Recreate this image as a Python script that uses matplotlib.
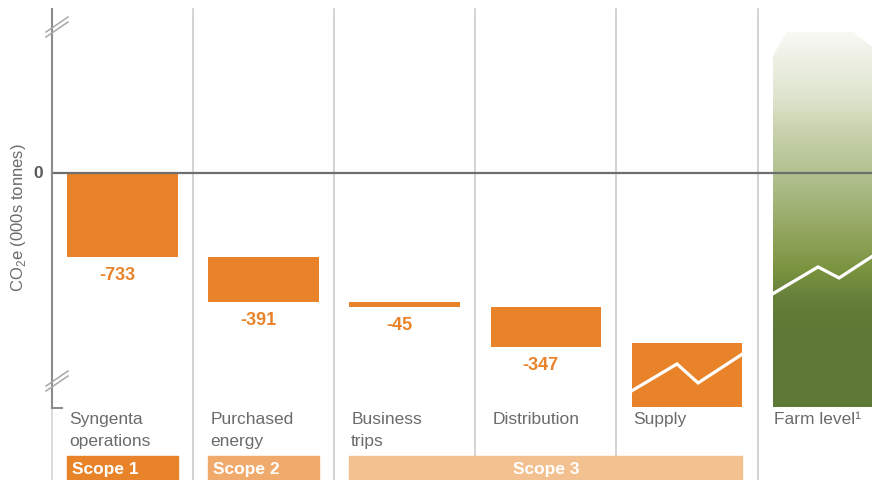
import numpy as np
import matplotlib
matplotlib.use("Agg")
import matplotlib.pyplot as plt
import matplotlib.transforms as mtransforms
from matplotlib.colors import LinearSegmentedColormap
from matplotlib.patches import Polygon, Rectangle

plt.rcParams['font.family'] = ['Liberation Sans', 'DejaVu Sans']
plt.rcParams['mathtext.fontset'] = 'custom'
plt.rcParams['mathtext.rm'] = 'Liberation Sans'

# CO2e emissions, 000s tonnes
categories = ["Syngenta\noperations", "Purchased\nenergy", "Business\ntrips",
              "Distribution", "Supply", "Farm level\u00b9"]
values = [-733, -391, -45, -347]
supply_top = -1480        # supply bar runs off the broken axis
farm_top = 1226           # farm level bar runs off the top break
axis_floor = -2035
# white trend squiggles inside supply / farm bars
trend_x = [0.0, 0.41, 0.60, 1.0]
supply_trend = [-1896, -1661, -1826, -1574]
farm_trend = [-1052, -817, -913, -661]
scopes = ["Scope 1", "Scope 2", "Scope 3"]
scope_span = [(0, 0), (1, 1), (2, 4)]

W, H = 872, 481
orange = '#e8832a'
scope_cols = ['#e8832a', '#f0aa6c', '#f3c190']
grey_txt = '#6b6b6b'
width = 0.787

fig = plt.figure(figsize=(W / 100, H / 100), dpi=100)
ax = fig.add_axes([0, 0, 1, 1])
ax.axis('off')
trans = ax.get_xaxis_transform()
pix = mtransforms.Affine2D().scale(1 / W, -1 / H).translate(0, 1) + fig.transFigure


def fy(p):
    return 1 - p / H


# waterfall bars
bottoms = np.cumsum(values)
tops = bottoms - np.array(values)
ax.bar(range(len(values)), values, bottom=tops, width=width, color=orange, zorder=3)
for i, (b, v) in enumerate(zip(bottoms, values)):
    ax.annotate(f"{v}", (i, b), xytext=(-4, -12.5), textcoords='offset points',
                ha='center', va='center', color=orange, fontweight='bold', fontsize=13)

# supply
ax.bar(4, axis_floor - supply_top, bottom=supply_top, width=width, color=orange, zorder=3)
tx = np.array(trend_x) * width
ax.plot(4 - width / 2 + tx, supply_trend, color='white', lw=2.3, zorder=4,
        solid_joinstyle='miter')

# farm level gradient
left, right = 5 - width / 2, 5 + width / 2
cmap = LinearSegmentedColormap.from_list('farm', [
    (0.0, '#5e7835'), (0.21, '#5f7936'), (0.29, '#66803a'), (0.37, '#7b9440'),
    (0.45, '#8fa259'), (0.55, '#a3b57a'), (0.63, '#b4c291'), (0.74, '#c9d2ad'),
    (0.82, '#dde3cc'), (0.93, '#eef0e4'), (1.0, '#f8f9f4')])
grad = np.linspace(0, 1, 256).reshape(-1, 1)
im = ax.imshow(grad, extent=[left, right, axis_floor, farm_top], origin='lower',
               cmap=cmap, aspect='auto', zorder=2, interpolation='bilinear')
clip = Polygon([(left, axis_floor), (left, farm_top - 215), (left + 0.1, farm_top),
                (right - 0.22, farm_top), (right, farm_top - 200), (right, axis_floor)],
               closed=True, facecolor='none', edgecolor='none', transform=ax.transData)
ax.add_patch(clip)
im.set_clip_path(clip)
ax.plot(left + tx, farm_trend, color='white', lw=2.3, zorder=4, solid_joinstyle='miter')

ax.set_xlim(-0.872, 5.312)
ax.set_ylim(-2670, 1513)

# zero line
ax.plot([-0.5, 5.4], [0, 0], color='#6e6e6e', lw=1.6, zorder=5)

# column separators
for x in np.arange(len(categories) - 1) + 0.5:
    ax.plot([x, x], [fy(10), 0], transform=trans, color='#cccccc', lw=1.2, zorder=1)

# broken y axis
ax.plot([-0.5, -0.5], [fy(10), fy(409)], transform=trans, color='#8c8c8c', lw=1.5, zorder=5)
ax.plot([-0.5, -0.435], [fy(409), fy(409)], transform=trans, color='#8c8c8c', lw=1.5, zorder=5)
ax.plot([-0.5, -0.5], [fy(409), 0], transform=trans, color='#d4d4d4', lw=1.2, zorder=1)
for y0 in (33, 387):
    for d in (0, 5):
        ax.plot([46, 68], [y0 + d, y0 + d - 15], transform=pix, color='#a8a8a8', lw=1.1, zorder=6)

ax.text(-0.603, 0, "0", ha='center', va='center', fontsize=12.5, fontweight='bold',
        color='#5a5a5a')
ax.text(19, 218, "CO$_2$e (000s tonnes)", transform=pix, rotation=90, ha='center',
        va='center', fontsize=12, color=grey_txt)

# category labels
for i, cat in enumerate(categories):
    ax.text(i - width / 2 + 0.012, fy(412), cat, transform=trans, ha='left', va='top',
            fontsize=12.5, color=grey_txt, linespacing=1.55)

# scope boxes
for k, (name, (s, e)) in enumerate(zip(scopes, scope_span)):
    x0, x1 = s - width / 2, e + width / 2
    ax.add_patch(Rectangle((x0, 0), x1 - x0, fy(457), transform=trans,
                           color=scope_cols[k], zorder=3))
    if s == e:
        ax.text(x0 + 0.03, fy(470), name, transform=trans, ha='left', va='center',
                fontsize=12.5, fontweight='bold', color='white', zorder=4)
    else:
        ax.text((x0 + x1) / 2, fy(470), name, transform=trans, ha='center', va='center',
                fontsize=12.5, fontweight='bold', color='white', zorder=4)

fig.savefig("out.png", dpi=100)
